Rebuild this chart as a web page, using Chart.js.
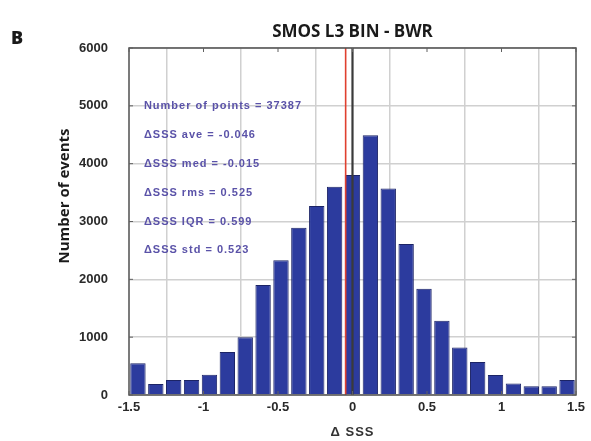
<!DOCTYPE html>
<html>
<head>
<meta charset="utf-8">
<script src="https://cdn.jsdelivr.net/npm/chart.js@4.4.1/dist/chart.umd.min.js"></script>
<style>
html,body{margin:0;padding:0;background:#fff;}
#wrap{width:591px;height:441px;position:relative;}
</style>
</head>
<body>
<div id="wrap"><canvas id="c" width="591" height="441"></canvas></div>
<script>
// Bin centres (ΔSSS) and counts
const binCenters = [-1.44,-1.32,-1.20,-1.08,-0.96,-0.84,-0.72,-0.60,-0.48,-0.36,-0.24,-0.12,0.00,0.12,0.24,0.36,0.48,0.60,0.72,0.84,0.96,1.08,1.20,1.32,1.44];
const counts = [550,190,260,260,350,745,1000,1900,2330,2890,3270,3600,3806,4490,3570,2610,1837,1282,820,570,345,200,150,150,260];
const xTicks = [-1.5,-1,-0.5,0,0.5,1,1.5];
const yTicks = [0,1000,2000,3000,4000,5000,6000];
const meanLine = -0.046;   // red line (ΔSSS ave)
const zeroLine = 0;        // black reference line
const statLines = [
  "Number of points = 37387",
  "\u0394SSS ave = -0.046",
  "\u0394SSS med = -0.015",
  "\u0394SSS rms = 0.525",
  "\u0394SSS IQR = 0.599",
  "\u0394SSS std = 0.523"
];
const statY = [5000,4500,4000,3500,3000,2500];
const statX = -1.4;

const barData = binCenters.map((x,i)=>({x:x,y:counts[i]}));

const deco = {
  id:'deco',
  afterDraw(chart){
    const ctx = chart.ctx, ca = chart.chartArea;
    const xs = chart.scales.x, ys = chart.scales.y;
    ctx.save();
    // box
    ctx.strokeStyle = '#505050'; ctx.lineWidth = 1.5;
    ctx.strokeRect(ca.left, ca.top, ca.right-ca.left, ca.bottom-ca.top);
    // inward tick marks
    ctx.lineWidth = 1; ctx.strokeStyle='#606060';
    xTicks.forEach(v=>{const p=xs.getPixelForValue(v);
      ctx.beginPath();ctx.moveTo(p,ca.bottom);ctx.lineTo(p,ca.bottom-4);ctx.moveTo(p,ca.top);ctx.lineTo(p,ca.top+4);ctx.stroke();});
    yTicks.forEach(v=>{const p=ys.getPixelForValue(v);
      ctx.beginPath();ctx.moveTo(ca.left,p);ctx.lineTo(ca.left+4,p);ctx.moveTo(ca.right,p);ctx.lineTo(ca.right-4,p);ctx.stroke();});
    // stats text
    ctx.fillStyle = '#5a52a8';
    ctx.font = 'bold 11px "Liberation Sans", Arial, sans-serif';
    ctx.letterSpacing = '1px';
    ctx.textAlign='left'; ctx.textBaseline='middle';
    statLines.forEach((t,i)=>{ctx.fillText(t, xs.getPixelForValue(statX), ys.getPixelForValue(statY[i]));});
    // titles
    ctx.letterSpacing = '0px';
    ctx.fillStyle='#1a1a1a';
    ctx.font='bold 17px "Open Sans", sans-serif';
    ctx.textAlign='center'; ctx.textBaseline='middle';
    ctx.fillText('SMOS L3 BIN - BWR', (ca.left+ca.right)/2, 32);
    ctx.textAlign='left';
    ctx.font='800 18px "Open Sans", sans-serif';
    ctx.fillText('B', 11, 39);
    ctx.save();
    ctx.translate(65, 196); ctx.rotate(-Math.PI/2);
    ctx.textAlign='center';
    ctx.font='bold 15px "Open Sans", sans-serif';
    ctx.fillText('Number of events', 0, 0);
    ctx.restore();
    ctx.fillStyle='#333';
    ctx.textAlign='center';
    ctx.letterSpacing = '1px';
    ctx.font='bold 13px "Liberation Sans", Arial, sans-serif';
    ctx.fillText('\u0394 SSS', xs.getPixelForValue(0), 432);
    ctx.restore();
  }
};

const tickFont = {family:'"Liberation Sans", Arial, sans-serif', size:13, weight:'bold'};

new Chart(document.getElementById('c'), {
  type:'bar',
  data:{
    datasets:[
      {type:'line', data:[{x:meanLine,y:0},{x:meanLine,y:6000}], borderColor:'#e0402f', borderWidth:1.6, pointRadius:0, order:0},
      {type:'line', data:[{x:zeroLine,y:0},{x:zeroLine,y:6000}], borderColor:'#3a3a3a', borderWidth:2.2, pointRadius:0, order:0},
      {data:barData, backgroundColor:'#2c3b9e', borderColor:'#1c2466', borderWidth:1, barPercentage:0.86, categoryPercentage:1, order:1}
    ]
  },
  plugins:[deco],
  options:{
    responsive:false, animation:false,
    layout:{padding:{left:0,right:15,top:48,bottom:0}},
    plugins:{legend:{display:false}, tooltip:{enabled:false}, title:{display:false}},
    scales:{
      x:{type:'linear', min:-1.5, max:1.5, offset:false,
        afterBuildTicks(s){s.ticks = xTicks.map(v=>({value:v}));},
        afterFit(s){s.height=46;},
        grid:{color:'#d0d0d0', lineWidth:1.5, drawTicks:false},
        border:{display:false},
        ticks:{padding:5, color:'#2a2a2a', font:tickFont, maxRotation:0, autoSkip:false,
          callback:(v)=>String(v)}
      },
      y:{min:0, max:6000,
        afterBuildTicks(s){s.ticks = yTicks.map(v=>({value:v}));},
        afterFit(s){s.width=129;},
        grid:{color:'#d0d0d0', lineWidth:1.5, drawTicks:false},
        border:{display:false},
        ticks:{padding:21, color:'#2a2a2a', font:tickFont, autoSkip:false, callback:(v)=>String(v)}
      }
    }
  }
});
</script>
</body>
</html>
